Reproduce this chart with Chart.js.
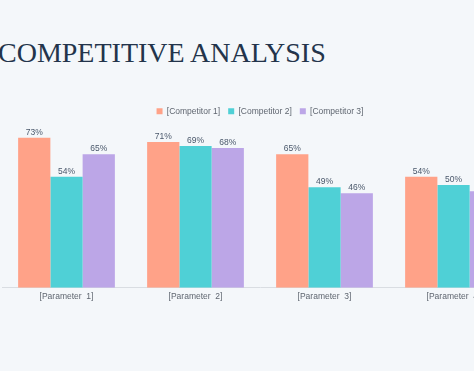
<!DOCTYPE html>
<html>
<head>
<meta charset="utf-8">
<script src="https://cdn.jsdelivr.net/npm/chart.js@4"></script>
<style>
  html, body { margin: 0; padding: 0; background: #f4f7fa; overflow: hidden; }
  body { width: 474px; height: 371px; position: relative; }
  .title {
    position: absolute; left: -2px; top: 39px;
    font-family: "Liberation Serif", "DejaVu Serif", serif;
    font-size: 28px; line-height: 1; color: #23344b; white-space: nowrap;
  }
  .wrap { position: absolute; left: 0; top: 0; width: 520px; height: 371px; }
</style>
</head>
<body>
<div class="title">COMPETITIVE ANALYSIS</div>
<div class="wrap"><canvas id="chart" width="520" height="371"></canvas></div>
<script>
// 競合分析
const categories = ['[Parameter  1]', '[Parameter  2]', '[Parameter  3]', '[Parameter  4]'];
const competitors = ['[Competitor 1]', '[Competitor 2]', '[Competitor 3]'];
const competitor1 = [73, 71, 65, 54];
const competitor2 = [54, 69, 49, 50];
const competitor3 = [65, 68, 46, 47];
const colors = ['#ffa288', '#4fd0d6', '#bca6e7'];
const fontFamily = '"Liberation Sans", Arial, sans-serif';

// 棒の上に値を表示
const valueLabels = {
  id: 'valueLabels',
  afterDatasetsDraw(chart) {
    const ctx = chart.ctx;
    ctx.save();
    ctx.font = '8.5px ' + fontFamily;
    ctx.fillStyle = '#4a586b';
    ctx.textAlign = 'center';
    ctx.textBaseline = 'bottom';
    chart.data.datasets.forEach((ds, i) => {
      chart.getDatasetMeta(i).data.forEach((bar, j) => {
        ctx.fillText(ds.data[j] + '%', bar.x, bar.y - 1);
      });
    });
    ctx.restore();
  }
};

const series = [competitor1, competitor2, competitor3];
new Chart(document.getElementById('chart'), {
  type: 'bar',
  data: {
    labels: categories,
    datasets: series.map((d, i) => ({
      label: competitors[i],
      data: d,
      backgroundColor: colors[i],
      barPercentage: 1,
      categoryPercentage: 0.75
    }))
  },
  options: {
    responsive: false,
    animation: false,
    layout: { padding: { top: 99, bottom: 65, left: 2, right: 2 } },
    plugins: {
      legend: {
        labels: {
          boxWidth: 6, boxHeight: 6, padding: 8,
          color: '#5f6670',
          font: { size: 8.5, family: fontFamily }
        }
      },
      tooltip: { enabled: false }
    },
    scales: {
      x: {
        grid: { display: false, drawTicks: false },
        border: { color: '#d9dde2' },
        ticks: { color: '#5f6670', padding: 4, font: { size: 8.5, family: fontFamily } }
      },
      y: { display: false, min: 0, max: 79 }
    }
  },
  plugins: [valueLabels]
});
</script>
</body>
</html>
